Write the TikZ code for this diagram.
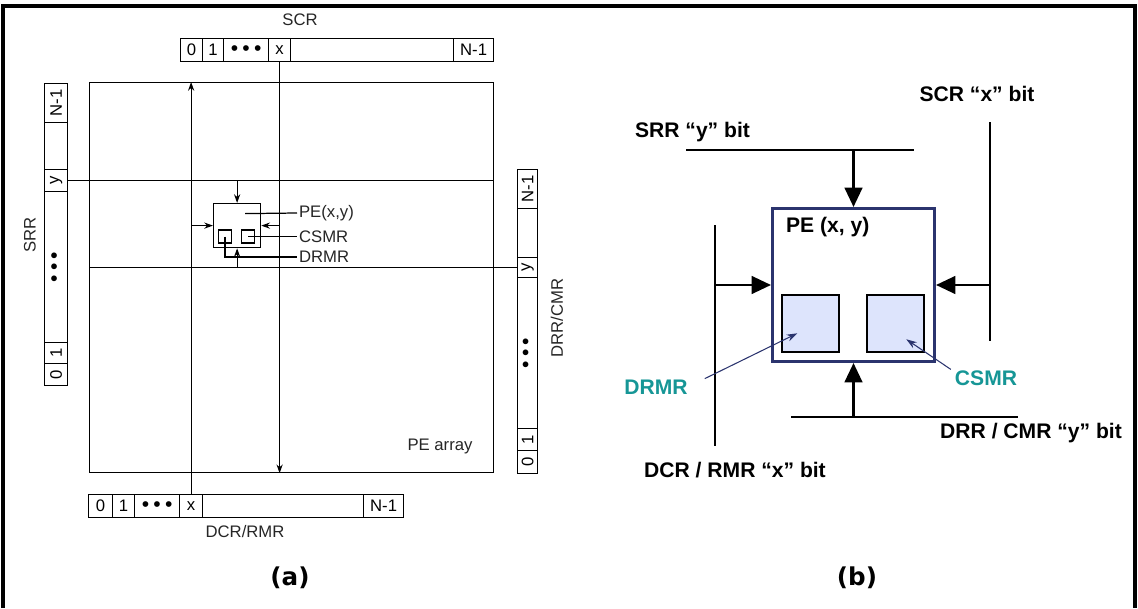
\documentclass[tikz,border=0pt]{standalone}
\usepackage{fontspec}
\setmainfont{Liberation Sans}
\setsansfont{Liberation Sans}
\newfontfamily\capfont{DejaVu Sans}
\usetikzlibrary{arrows.meta,positioning,calc}
\definecolor{cNavy}{RGB}{43,52,110}
\definecolor{cTeal}{RGB}{22,150,150}
\definecolor{cFill}{RGB}{221,228,252}
\newcommand{\pxl}{0.02cm}
\newcommand{\tdots}{{\fontsize{12}{12}\selectfont•\hspace{0.2em}•\hspace{0.2em}•}}

\begin{document}
\begin{tikzpicture}[x=0.02cm,y=-0.02cm,>={Stealth[length=5pt,width=3.5pt]},font=\sffamily,
  cell/.style={draw,line width=0.7pt,inner sep=0pt,anchor=north west,minimum height=23*\pxl,font=\sffamily\fontsize{9.5}{10}\selectfont},
  vcell/.style={draw,line width=0.7pt,inner sep=0pt,anchor=north west,minimum width=23*\pxl,font=\sffamily\fontsize{9.5}{10}\selectfont},
  lab/.style={font=\sffamily\fontsize{9.5}{10}\selectfont,text=black!85,inner sep=1pt},
  big/.style={font=\sffamily\bfseries\fontsize{12}{14}\selectfont,inner sep=1pt},
  thin/.style={line width=0.7pt},
  fat/.style={line width=1.5pt,-{Triangle[length=11pt,width=10pt]}},
  lead/.style={cNavy,line width=0.6pt,-{Stealth[length=6pt,width=4pt]}}]
  \useasboundingbox (0,0) rectangle (1138,608);
  \draw[line width=2.3pt] (3,608) -- (3,6) -- (1135,6) -- (1135,608);
  % (a) PE array with its registers
  \node[draw,thin,anchor=north west,minimum width=404*\pxl,minimum height=390*\pxl] (arr) at (89,82) {};
  \node[lab] (arrlab) at (440,446) {PE array};
  \foreach \nm/\xa/\w/\t in {0/180/22/0,1/202/21/1,d/223/45/\tdots,x/268/22/x,e/290/163/{},n/453/40/N-1}
    \node[cell,minimum width=\w*\pxl] (scr\nm) at (\xa,38) {\t};
  \foreach \nm/\xa/\w/\t in {0/88/24/0,1/112/22/1,d/134/45/\tdots,x/179/23/x,e/202/161/{},n/363/40/N-1}
    \node[cell,minimum width=\w*\pxl] (dcr\nm) at (\xa,494) {\t};
  \foreach \nm/\ya/\h/\t in {n/83/39/N-1,e/122/47/{},y/169/22/y,d/191/151/\tdots,1/342/21/1,0/363/22/0}
    \node[vcell,minimum height=\h*\pxl] (srr\nm) at (44,\ya) {\rotatebox{90}{\t}};
  \foreach \nm/\ya/\h/\t in {n/169/39/N-1,e/208/49/{},y/257/20/y,d/277/151/\tdots,1/428/22/1,0/450/23/0}
    \node[vcell,minimum width=20*\pxl,minimum height=\h*\pxl] (drr\nm) at (517,\ya) {\rotatebox{90}{\t}};
  \node[lab] (scrlab) at (300,20) {SCR};
  \node[lab] (dcrlab) at (245,532) {DCR/RMR};
  \node[lab,rotate=90] (srrlab) at (30,235) {SRR};
  \node[lab,rotate=90] (drrlab) at (557,318) {DRR/CMR};
  \node[draw,thin,anchor=north west,minimum width=47*\pxl,minimum height=44*\pxl] (pe) at (213,203) {};
  \node[draw,thin,inner sep=0pt,minimum size=13*\pxl] (drmr) at (225,236.5) {};
  \node[draw,thin,inner sep=0pt,minimum size=13*\pxl] (csmr) at (248,236.5) {};
  \node[lab,anchor=west] (pelab) at (297,213) {PE(x,y)};
  \node[lab,anchor=west] (csmrlab) at (297,236.5) {CSMR};
  \node[lab,anchor=west] (drmrlab) at (297,257) {DRMR};
  \draw[thin,->] (scrx.south) -- (scrx.south |- arr.south);
  \draw[thin,->] (dcrx.north) -- (dcrx.north |- arr.north);
  \draw[thin] (srry.east) -- (srry.east -| arr.east);
  \draw[thin] (drry.west) -- (drry.west -| arr.west);
  \draw[thin,->] (pe.north |- srry.east) -- (pe.north);
  \draw[thin,->] (pe.south |- drry.west) -- (pe.south);
  \draw[thin,->] (pe.west -| dcrx.north) -- (pe.west);
  \draw[thin,->] (pe.east -| scrx.south) -- (pe.east);
  \draw[thin] ($(pe.center)+(8,-12)$) -- (pelab.west);
  \draw[thin] (csmr.center) -- (csmrlab.west);
  \draw[thin] (drmr.center) |- (drmrlab.west);
  \node[font=\capfont\bfseries\fontsize{14}{16}\selectfont] (capa) at (290,578) {(a)};
  % (b) one PE
  \node[draw=cNavy,line width=1.7pt,anchor=north west,minimum width=162*\pxl,minimum height=153*\pxl] (boxb) at (771,207) {};
  \node[big,anchor=west] (peb) at (784,227) {PE (x, y)};
  \node[draw,line width=0.9pt,fill=cFill,anchor=north west,minimum size=57*\pxl] (drmrb) at (781,294) {};
  \node[draw,line width=0.9pt,fill=cFill,anchor=north west,minimum size=57*\pxl] (csmrb) at (866,294) {};
  \coordinate (srrl) at (686,150);
  \coordinate (srrr) at (914,150);
  \coordinate (scrt) at (990,122);
  \coordinate (scrb) at (990,341);
  \coordinate (dcrt) at (715,225);
  \coordinate (dcrb) at (715,446);
  \coordinate (drrl) at (791,417);
  \coordinate (drrr) at (1018,417);
  \draw[thin] (srrl) -- (srrr);
  \draw[thin] (scrt) -- (scrb);
  \draw[thin] (dcrt) -- (dcrb);
  \draw[thin] (drrl) -- (drrr);
  \node[big,anchor=west] (srrlab2) at (633,132) {SRR “y” bit};
  \node[big] (scrlab2) at (977,94) {SCR “x” bit};
  \node[big] (drrlab2) at (1031,433) {DRR / CMR “y” bit};
  \node[big] (dcrlab2) at (735,470) {DCR / RMR “x” bit};
  \draw[fat] (boxb.north |- srrl) -- (boxb.north);
  \draw[fat] (boxb.south |- drrl) -- (boxb.south);
  \draw[fat] (boxb.west -| dcrt) -- (boxb.west);
  \draw[fat] (boxb.east -| scrt) -- (boxb.east);
  \node[big,text=cTeal] (drmrlab2) at (656,387) {DRMR};
  \node[big,text=cTeal] (csmrlab2) at (986,378) {CSMR};
  \draw[lead] ($(drmrlab2.north east)+(15,1)$) -- ($(drmrb.center)+(-13,10)$);
  \draw[lead] ($(csmrlab2.north west)+(-2,1)$) -- ($(csmrb.center)+(11,16)$);
  \node[font=\capfont\bfseries\fontsize{14}{16}\selectfont] (capb) at (857,578) {(b)};
\end{tikzpicture}
\end{document}
